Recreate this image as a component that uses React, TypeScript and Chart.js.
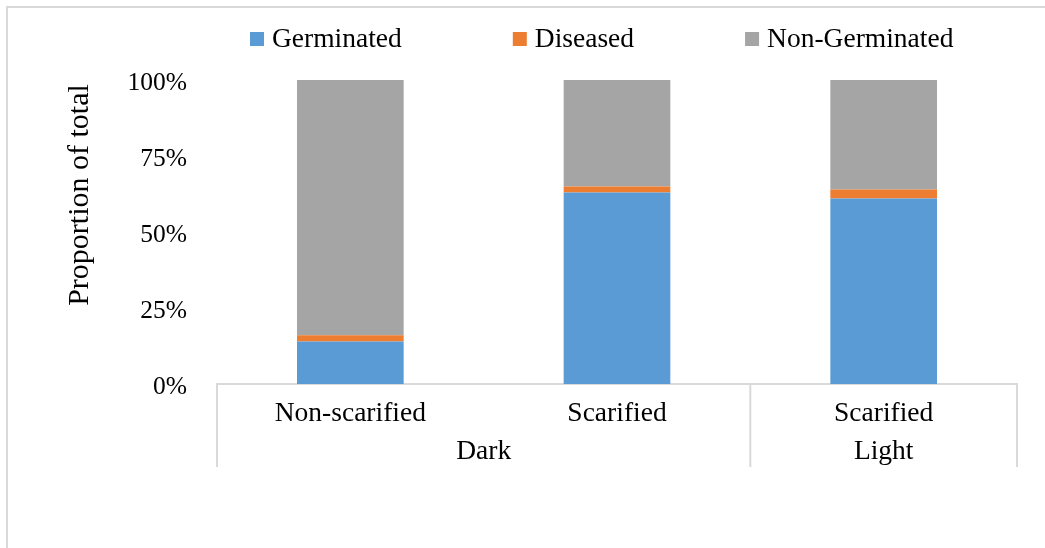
import { useEffect, useRef } from 'react';
import { Chart, registerables } from 'chart.js';

Chart.register(...registerables);

// Light condition / seed treatment per bar
const conditions = ['Dark', 'Dark', 'Light'];
const treatments = ['Non-scarified', 'Scarified', 'Scarified'];

// Share of seeds (percent of total) in each outcome
const germinated = [14, 63, 61];
const diseased = [2, 2, 3];
const nonGerminated = [84, 35, 36];

const yTicks = [0, 25, 50, 75, 100];
const yTitle = 'Proportion of total';

const seriesNames = ['Germinated', 'Diseased', 'Non-Germinated'];
const seriesColors = ['#5B9BD5', '#ED7D31', '#A5A5A5'];

const FONT = "'Liberation Serif', 'Times New Roman', serif";
const AXIS_GRAY = '#D9D9D9';

// Draws the legend row, the axis title, the outer category level and its divider lines
const decorations = {
  id: 'decorations',
  afterDraw(chart: any) {
    const { ctx, chartArea } = chart;
    const x = chart.scales.x;
    ctx.save();

    // Legend
    ctx.font = `27.5px ${FONT}`;
    ctx.textBaseline = 'middle';
    ctx.textAlign = 'left';
    let lx = 250;
    const gap = 111;
    seriesNames.forEach((name, i) => {
      ctx.fillStyle = seriesColors[i];
      ctx.fillRect(lx, 32, 14, 14);
      ctx.fillStyle = '#000';
      ctx.fillText(name, lx + 22, 40);
      lx += 22 + ctx.measureText(name).width + gap;
    });

    // Value axis title
    ctx.save();
    ctx.translate(80, 195);
    ctx.rotate(-Math.PI / 2);
    ctx.textAlign = 'center';
    ctx.font = `30px ${FONT}`;
    ctx.fillStyle = '#000';
    ctx.fillText(yTitle, 0, 0);
    ctx.restore();

    // Outer category level
    const half = (x.getPixelForValue(1) - x.getPixelForValue(0)) / 2;
    const bottom = chartArea.bottom;
    const lineEnd = bottom + 83;
    ctx.strokeStyle = AXIS_GRAY;
    ctx.lineWidth = 2;
    const vline = (px: number) => {
      ctx.beginPath();
      ctx.moveTo(px, bottom);
      ctx.lineTo(px, lineEnd);
      ctx.stroke();
    };
    let start = 0;
    vline(x.getPixelForValue(0) - half);
    for (let i = 1; i <= conditions.length; i++) {
      if (i === conditions.length || conditions[i] !== conditions[start]) {
        const x0 = x.getPixelForValue(start) - half;
        const x1 = x.getPixelForValue(i - 1) + half;
        vline(x1);
        ctx.fillStyle = '#000';
        ctx.textAlign = 'center';
        ctx.font = `27.5px ${FONT}`;
        ctx.fillText(conditions[start], (x0 + x1) / 2, bottom + 68);
        start = i;
      }
    }
    ctx.restore();
  },
};

export default function App() {
  const ref = useRef<HTMLCanvasElement>(null);

  useEffect(() => {
    if (!ref.current) return;
    const chart = new Chart(ref.current, {
      type: 'bar',
      data: {
        labels: treatments,
        datasets: [
          { label: seriesNames[0], data: germinated, backgroundColor: seriesColors[0] },
          { label: seriesNames[1], data: diseased, backgroundColor: seriesColors[1] },
          { label: seriesNames[2], data: nonGerminated, backgroundColor: seriesColors[2] },
        ],
      },
      options: {
        animation: false,
        responsive: false,
        layout: { padding: { left: 0, top: 80, right: 28, bottom: 0 } },
        datasets: { bar: { barPercentage: 0.4, categoryPercentage: 1 } },
        plugins: {
          legend: { display: false },
          tooltip: { enabled: false },
        },
        scales: {
          x: {
            stacked: true,
            grid: { display: false },
            border: { display: true, color: AXIS_GRAY, width: 2 },
            ticks: {
              color: '#000',
              font: { family: FONT, size: 27.5 },
              padding: 5,
              maxRotation: 0,
            },
            afterFit: (s: any) => {
              s.height = 164;
            },
          },
          y: {
            stacked: true,
            min: 0,
            max: 100,
            afterBuildTicks: (s: any) => {
              s.ticks = yTicks.map((v) => ({ value: v }));
            },
            grid: { display: false },
            border: { display: false },
            ticks: {
              color: '#000',
              font: { family: FONT, size: 25.5 },
              padding: 22,
              labelOffset: 3,
              callback: (v: any) => `${v}%`,
            },
            afterFit: (s: any) => {
              s.width = 217;
            },
          },
        },
      },
      plugins: [decorations],
    });
    return () => chart.destroy();
  }, []);

  return (
    <div
      style={{
        position: 'fixed',
        left: 0,
        top: 0,
        width: 1045,
        height: 548,
        overflow: 'hidden',
        background: '#fff',
      }}
    >
      <div
        style={{
          position: 'absolute',
          left: 6,
          top: 6,
          width: 1100,
          height: 600,
          borderLeft: `2px solid ${AXIS_GRAY}`,
          borderTop: `2px solid ${AXIS_GRAY}`,
        }}
      />
      <canvas ref={ref} width={1045} height={548} style={{ position: 'absolute', left: 0, top: 0 }} />
    </div>
  );
}
